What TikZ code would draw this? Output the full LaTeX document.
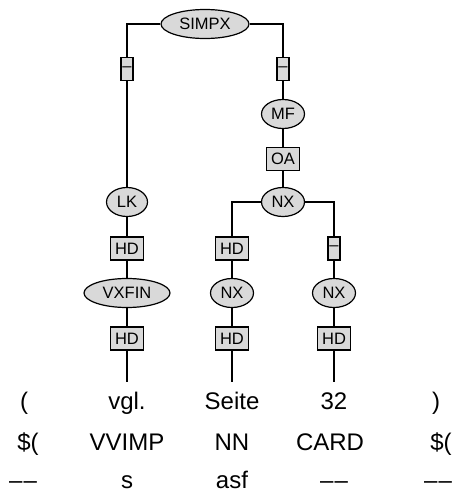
\documentclass[tikz,border=0pt]{standalone}
\usepackage{fontspec}
\setmainfont{Liberation Sans}
\usetikzlibrary{shapes.geometric}
\definecolor{nodefill}{RGB}{217,217,217}
\newcommand{\ddash}{\textendash\kern1.2pt\textendash}
\tikzset{
  ell/.style={ellipse, draw, fill=nodefill, line width=1.2pt, minimum height=29pt, minimum width=43pt, inner xsep=1pt, inner ysep=0pt, font=\fontsize{16.5}{18}\selectfont},
  ellwide/.style={ell, minimum width=88pt},
  lab/.style={rectangle, draw, fill=nodefill, line width=1.2pt, minimum height=23pt, inner xsep=4.5pt, inner ysep=0pt, font=\fontsize{16.5}{18}\selectfont},
  dashlab/.style={lab, inner xsep=1.5pt},
  edge/.style={line width=1.2pt},
  word/.style={anchor=base, inner sep=0pt, font=\fontsize{24}{28}\selectfont}
}
\begin{document}
\begin{tikzpicture}[x=1pt,y=-1pt]
\useasboundingbox (0,0) rectangle (451,493);
% tree nodes
\node[ellwide] (simpx) at (205,24) {SIMPX};
\node[dashlab] (d1) at (127,69) {\textendash};
\node[dashlab] (d2) at (283,69) {\textendash};
\node[ell] (mf) at (283,114) {MF};
\node[lab] (oa) at (283,159) {OA};
\node[ell] (nxtop) at (283,202) {NX};
\node[ell, minimum width=41pt] (lk) at (127,202) {LK};
\node[lab] (hd1) at (127,248.5) {HD};
\node[lab] (hd2) at (232,248.5) {HD};
\node[dashlab] (d3) at (334,248.5) {\textendash};
\node[ellwide, minimum width=86pt] (vxfin) at (127,293) {VXFIN};
\node[ell] (nx1) at (232,293) {NX};
\node[ell] (nx2) at (334,293) {NX};
\node[lab] (hd3) at (127,338.5) {HD};
\node[lab] (hd4) at (232,338.5) {HD};
\node[lab] (hd5) at (334,338.5) {HD};
\coordinate (e1) at (127,382);
\coordinate (e2) at (232,382);
\coordinate (e3) at (334,382);
% edges
\draw[edge] (simpx.west) -| (d1.north);
\draw[edge] (simpx.east) -| (d2.north);
\draw[edge] (d1.south) -- (lk.north);
\draw[edge] (d2.south) -- (mf.north);
\draw[edge] (mf.south) -- (oa.north);
\draw[edge] (oa.south) -- (nxtop.north);
\draw[edge] (nxtop.west) -| (hd2.north);
\draw[edge] (nxtop.east) -| (d3.north);
\draw[edge] (lk.south) -- (hd1.north);
\draw[edge] (hd1.south) -- (vxfin.north);
\draw[edge] (vxfin.south) -- (hd3.north);
\draw[edge] (hd2.south) -- (nx1.north);
\draw[edge] (nx1.south) -- (hd4.north);
\draw[edge] (d3.south) -- (nx2.north);
\draw[edge] (nx2.south) -- (hd5.north);
\draw[edge] (hd3.south) -- (e1);
\draw[edge] (hd4.south) -- (e2);
\draw[edge] (hd5.south) -- (e3);
% words
\node[word] (w1) at (24,409) {(};
\node[word] (w2) at (127,409) {vgl.};
\node[word] (w3) at (232,409) {Seite};
\node[word] (w4) at (334,409) {32};
\node[word] (w5) at (436,409) {)};
\node[word] (p1) at (28,450) {\$(};
\node[word] (p2) at (127,450) {VVIMP};
\node[word] (p3) at (232,450) {NN};
\node[word] (p4) at (330,450) {CARD};
\node[word] (p5) at (441,450) {\$(};
\node[word] (m1) at (23,488) {\ddash};
\node[word] (m2) at (127,488) {s};
\node[word] (m3) at (232,488) {asf};
\node[word] (m4) at (334,488) {\ddash};
\node[word] (m5) at (438,488) {\ddash};
\end{tikzpicture}
\end{document}
